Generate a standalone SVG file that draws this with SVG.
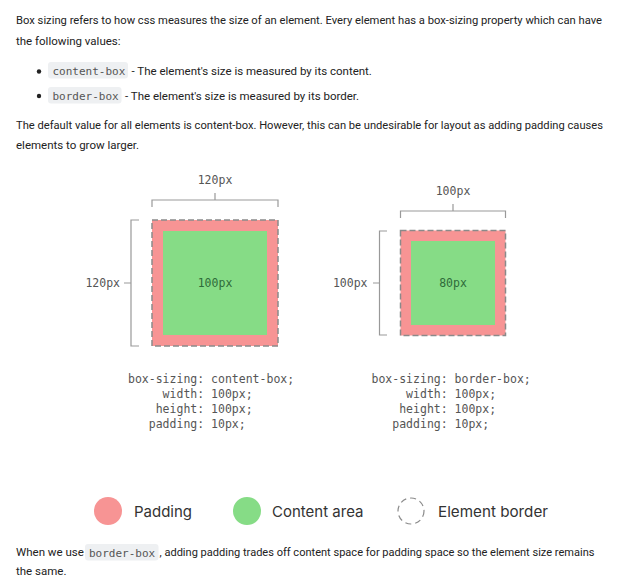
<svg xmlns="http://www.w3.org/2000/svg" width="630" height="584" viewBox="0 0 630 584">
<style>
.p{font-family:Roboto,"Liberation Sans",sans-serif;font-size:11.5px;fill:#222}
.chip{fill:#eef0f2}
.ct{font-family:"DejaVu Sans Mono","Liberation Mono",monospace;font-size:11px;fill:#555}
.mono{font-family:"DejaVu Sans Mono","Liberation Mono",monospace;font-size:11.5px;fill:#555;white-space:pre}
.dim{fill:none;stroke:#999;stroke-width:1.2}
.pad{fill:#f79494}
.content{fill:#86dc86}
.border{fill:none;stroke:#8a8a8a;stroke-width:1.5;stroke-dasharray:6 3}
.inner{font-family:"DejaVu Sans Mono","Liberation Mono",monospace;font-size:11.5px;fill:#2f6b3a}
.lg{font-family:Inter,"Open Sans",sans-serif;font-size:15px;fill:#333}
</style>
<rect width="630" height="584" fill="#fff"/>

<g id="intro">
<text class="p" x="16" y="24" textLength="586" lengthAdjust="spacingAndGlyphs">Box sizing refers to how css measures the size of an element. Every element has a box-sizing property which can have</text>
<text class="p" x="16" y="45">the following values:</text>
<circle cx="39" cy="71.5" r="2.2" fill="#222"/>
<rect class="chip" x="48" y="62" width="80" height="16.5" rx="3"/>
<text class="ct" x="52.5" y="74.5">content-box</text>
<text class="p" x="131.5" y="75">- The element's size is measured by its content.</text>
<circle cx="39" cy="96" r="2.2" fill="#222"/>
<rect class="chip" x="48" y="87" width="73.5" height="16.5" rx="3"/>
<text class="ct" x="52.5" y="99.5">border-box</text>
<text class="p" x="125" y="100">- The element's size is measured by its border.</text>
<text class="p" x="16" y="129" textLength="587" lengthAdjust="spacingAndGlyphs">The default value for all elements is content-box. However, this can be undesirable for layout as adding padding causes</text>
<text class="p" x="16" y="149">elements to grow larger.</text>
</g>

<g id="dimensions">
<path class="dim" d="M152,207V200H278V207M215,200V193"/>
<path class="dim" d="M139,220H131V346H139M124,283H131"/>
<path class="dim" d="M400.5,218V211H505.5V218M453,211V204"/>
<path class="dim" d="M387,231H379.5V335H387M373,283H379.5"/>
<text class="mono" x="215" y="184" text-anchor="middle">120px</text>
<text class="mono" x="120" y="287" text-anchor="end">120px</text>
<text class="mono" x="453" y="195" text-anchor="middle">100px</text>
<text class="mono" x="367.5" y="287" text-anchor="end">100px</text>
</g>

<g id="content-box-element">
<rect class="pad" x="152" y="220" width="126" height="126"/>
<rect class="content" x="163" y="231" width="104" height="104"/>
<rect class="border" x="152" y="220" width="126" height="126"/>
<text class="inner" x="215" y="287" text-anchor="middle">100px</text>
</g>

<g id="border-box-element">
<rect class="pad" x="400.5" y="230.5" width="105" height="105"/>
<rect class="content" x="411" y="241" width="84" height="84"/>
<rect class="border" x="400.5" y="230.5" width="105" height="105"/>
<text class="inner" x="453" y="287" text-anchor="middle">80px</text>
</g>

<g id="content-box-code">
<text class="mono" x="128" y="383">box-sizing: content-box;</text>
<text class="mono" x="128" y="398">     width: 100px;</text>
<text class="mono" x="128" y="413">    height: 100px;</text>
<text class="mono" x="128" y="428">   padding: 10px;</text>
</g>

<g id="border-box-code">
<text class="mono" x="371.5" y="383">box-sizing: border-box;</text>
<text class="mono" x="371.5" y="398">     width: 100px;</text>
<text class="mono" x="371.5" y="413">    height: 100px;</text>
<text class="mono" x="371.5" y="428">   padding: 10px;</text>
</g>

<g id="legend-padding">
<circle class="pad" cx="108" cy="511" r="14"/>
<text class="lg" x="134" y="516.5">Padding</text>
</g>
<g id="legend-content">
<circle class="content" cx="247" cy="511" r="14"/>
<text class="lg" x="272" y="516.5">Content area</text>
</g>
<g id="legend-border">
<circle cx="411" cy="511" r="13" fill="none" stroke="#8a8a8a" stroke-width="1.2" stroke-dasharray="6 4"/>
<text class="lg" x="438" y="516.5" textLength="110" lengthAdjust="spacingAndGlyphs">Element border</text>
</g>

<g id="outro">
<text class="p" x="16" y="556">When we use</text>
<rect class="chip" x="85" y="544" width="73.5" height="16.5" rx="3"/>
<text class="ct" x="89" y="556.5">border-box</text>
<text class="p" x="159.5" y="556" textLength="435" lengthAdjust="spacingAndGlyphs">, adding padding trades off content space for padding space so the element size remains</text>
<text class="p" x="16" y="575">the same.</text>
</g>
</svg>
